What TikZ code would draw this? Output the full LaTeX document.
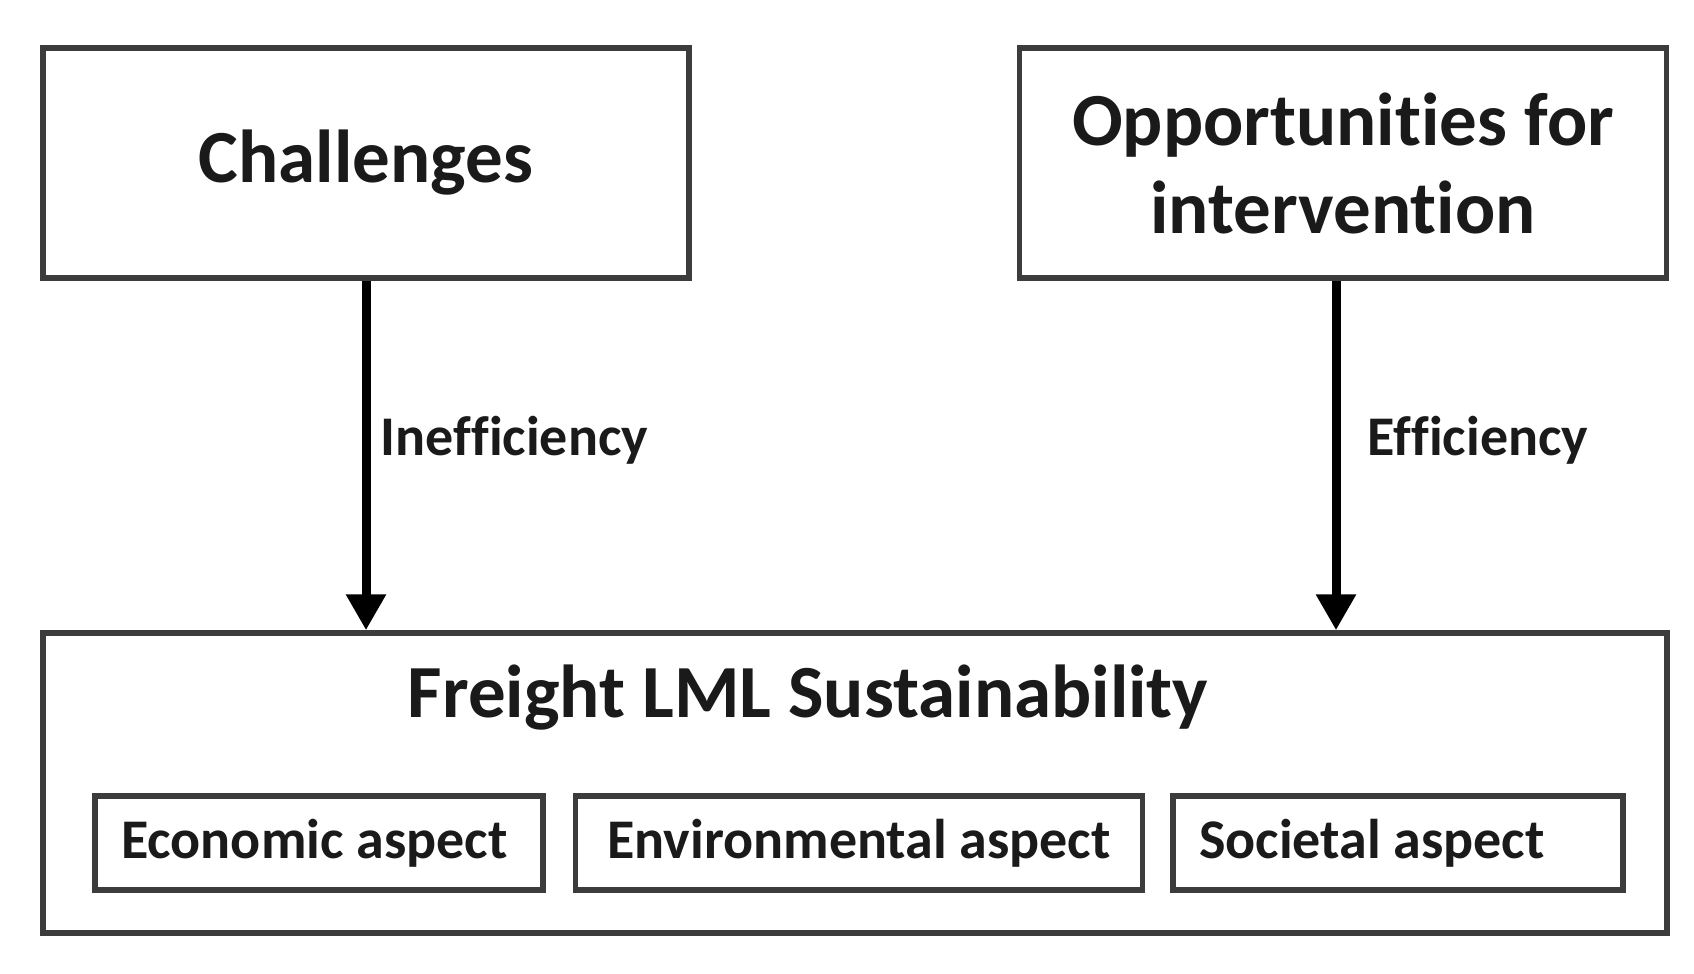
\documentclass[tikz,border=0pt]{standalone}
\usepackage{fontspec}
\setmainfont{Carlito}[Ligatures=NoCommon]
\usetikzlibrary{arrows.meta}
\definecolor{boxgray}{HTML}{3C3C3C}
\definecolor{textblack}{HTML}{1A1A1A}

\begin{document}
\begin{tikzpicture}[x=1pt, y=-1pt,
    box/.style={draw=boxgray, line width=5.5pt, inner sep=0pt},
    bigtext/.style={font=\fontsize{75}{88}\selectfont\bfseries, text=textblack},
    smalltext/.style={font=\fontsize{56}{64}\selectfont\bfseries, text=textblack},
    flow/.style={line width=9pt, -{Triangle[width=38pt,length=36pt]}}]

    % Page size and background
    \fill[white] (0,0) rectangle (1694,974);
    \useasboundingbox (0,0) rectangle (1694,974);

    % Top boxes
    \node[box, bigtext, minimum width=646pt, minimum height=230pt] (chal) at (366,163) {Challenges};
    \node[box, bigtext, minimum width=647pt, minimum height=230pt, align=center] (opp) at (1343,163) {Opportunities for\\intervention};

    % Bottom box with its title and the three aspects
    \node[box, minimum width=1624pt, minimum height=300pt] (lml) at (855,783) {};
    \node[bigtext, anchor=base] (title) at (808,717) {Freight LML Sustainability};
    \node[box, smalltext, minimum width=448pt, minimum height=94pt, text width=396pt, align=flush left] (econ) at (319,843) {Economic aspect};
    \node[box, smalltext, minimum width=567pt, minimum height=94pt] (env) at (859,843) {Environmental aspect};
    \node[box, smalltext, minimum width=450pt, minimum height=94pt, text width=398pt, align=flush left] (soc) at (1398,843) {Societal aspect};

    % Arrows into the bottom box
    \draw[flow] (chal.south) -- (chal.south |- lml.north)
        node[smalltext, pos=0.5, anchor=base west, xshift=7pt] (ineff) {Inefficiency};
    \draw[flow] ([xshift=-7pt]opp.south) -- ([xshift=-7pt]opp.south |- lml.north)
        node[smalltext, pos=0.5, anchor=base west, xshift=24pt] (eff) {Efficiency};
\end{tikzpicture}
\end{document}
